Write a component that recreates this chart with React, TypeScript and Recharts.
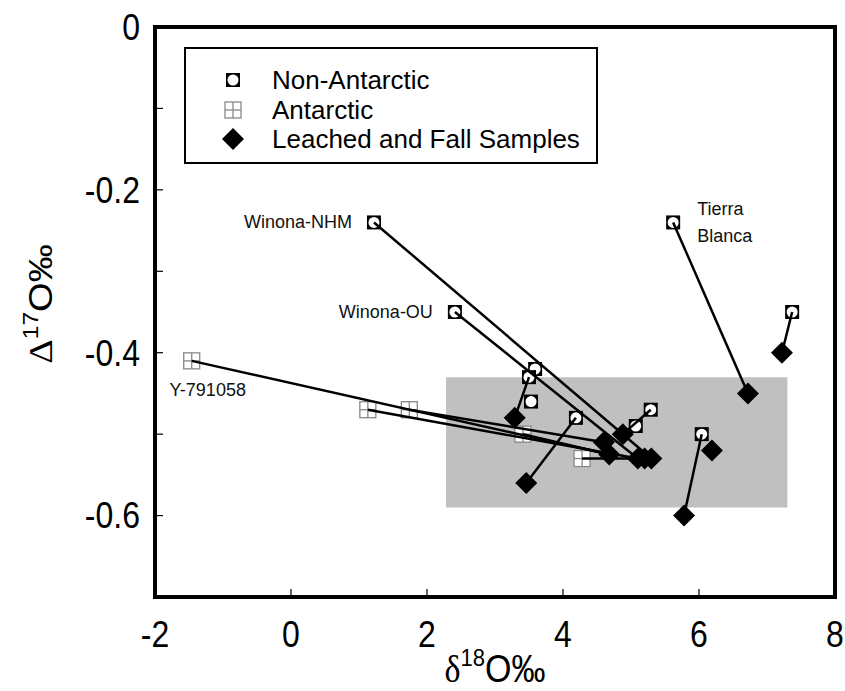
import React from 'react';
import { ScatterChart, Scatter, XAxis, YAxis, ReferenceArea } from 'recharts';

// pre-leach whole-rock values (δ18O, Δ17O)
const nonAntarctic = [
  { x: 1.22, y: -0.24, name: 'Winona-NHM' },
  { x: 2.41, y: -0.35, name: 'Winona-OU' },
  { x: 3.59, y: -0.42 },
  { x: 3.5, y: -0.43 },
  { x: 3.53, y: -0.46 },
  { x: 4.19, y: -0.48 },
  { x: 5.07, y: -0.49 },
  { x: 5.29, y: -0.47 },
  { x: 6.04, y: -0.5 },
  { x: 5.62, y: -0.24, name: 'Tierra Blanca' },
  { x: 7.37, y: -0.35 },
];

const antarctic = [
  { x: -1.46, y: -0.41, name: 'Y-791058' },
  { x: 1.13, y: -0.47 },
  { x: 1.74, y: -0.47 },
  { x: 3.41, y: -0.5 },
  { x: 4.28, y: -0.53 },
];

const leached = [
  { x: 3.29, y: -0.48 },
  { x: 3.46, y: -0.56 },
  { x: 4.6, y: -0.51 },
  { x: 4.68, y: -0.525 },
  { x: 4.88, y: -0.5 },
  { x: 5.1, y: -0.53 },
  { x: 5.2, y: -0.53 },
  { x: 5.3, y: -0.53 },
  { x: 5.78, y: -0.6 },
  { x: 6.19, y: -0.52 },
  { x: 6.72, y: -0.45 },
  { x: 7.22, y: -0.4 },
];

// [index in nonAntarctic / antarctic, index in leached]
const nonAntarcticTies = [[0, 7], [1, 5], [3, 0], [5, 1], [7, 4], [8, 8], [9, 10], [10, 11]];
const antarcticTies = [[0, 3], [1, 5], [2, 2], [3, 3], [4, 6]];

// shaded range of leached / fall samples
const fieldX = [2.28, 7.3];
const fieldY = [-0.59, -0.43];

const xTicks = [-2, 0, 2, 4, 6, 8];
const yTicks = [0, -0.1, -0.2, -0.3, -0.4, -0.5, -0.6, -0.7];

const FONT = '"Liberation Sans", Arial, Helvetica, sans-serif';

const tieLines = [
  ...nonAntarcticTies.map(([a, b]) => [nonAntarctic[a], leached[b]]),
  ...antarcticTies.map(([a, b]) => [antarctic[a], leached[b]]),
];

const Nothing = () => <g />;

const SampleLabel = ({ cx, cy, name }: any) => {
  if (!name) return null;
  const common = { fontFamily: FONT, fontSize: 18, fill: '#111' };
  if (name === 'Tierra Blanca') {
    return (
      <text x={cx + 24} y={cy - 7} {...common}>
        <tspan x={cx + 24}>Tierra</tspan>
        <tspan x={cx + 24} dy={27}>Blanca</tspan>
      </text>
    );
  }
  if (name === 'Y-791058') {
    return <text x={cx + 16} y={cy + 35} textAnchor="middle" {...common}>{name}</text>;
  }
  return <text x={cx - 22} y={cy + 6} textAnchor="end" {...common}>{name}</text>;
};

const NonAntarcticMark = (props: any) => {
  const { cx, cy, payload } = props;
  return (
    <g>
      <rect x={cx - 7} y={cy - 7} width={14} height={14} fill="#000" />
      <circle cx={cx} cy={cy} r={5.5} fill="#fff" />
      <SampleLabel cx={cx} cy={cy} name={payload?.name} />
    </g>
  );
};

const AntarcticMark = (props: any) => {
  const { cx, cy, payload } = props;
  return (
    <g>
      <rect x={cx - 8} y={cy - 8} width={16} height={16} fill="#fff" stroke="#888" strokeWidth={1.3} />
      <line x1={cx} y1={cy - 8} x2={cx} y2={cy + 8} stroke="#888" strokeWidth={1.3} />
      <line x1={cx - 8} y1={cy} x2={cx + 8} y2={cy} stroke="#888" strokeWidth={1.3} />
      <SampleLabel cx={cx} cy={cy} name={payload?.name} />
    </g>
  );
};

const DiamondMark = ({ cx, cy }: any) => (
  <path d={`M${cx},${cy - 11}L${cx + 11},${cy}L${cx},${cy + 11}L${cx - 11},${cy}Z`} fill="#000" />
);

const YTick = ({ x, y, payload }: any) => {
  const v = payload.value;
  const even = Math.round(Math.abs(v) * 10) % 2 === 0;
  if (!even) return null;
  return (
    <g transform={`translate(${x},${y}) scale(1,1.15)`}>
      <text x={0} y={0} textAnchor="end" dominantBaseline="central" fontFamily={FONT} fontSize={32} fill="#000">
        {v === 0 ? '0' : v.toFixed(1)}
      </text>
    </g>
  );
};

const XTick = ({ x, y, payload }: any) => (
  <g transform={`translate(${x},${y}) scale(1,1.15)`}>
    <text x={0} y={0} dy="0.72em" textAnchor="middle" fontFamily={FONT} fontSize={32} fill="#000">
      {payload.value}
    </text>
  </g>
);

const XTitle = ({ viewBox }: any) => {
  const cx = viewBox.x + viewBox.width / 2;
  return (
    <g transform={`translate(${cx},682) scale(1,1.12)`}>
      <text x={0} y={0} textAnchor="middle" fontFamily={FONT} fontSize={34} fill="#000">
        <tspan fontFamily='"Liberation Serif", "Times New Roman", serif'>δ</tspan>
        <tspan fontSize={22} dy={-14}>18</tspan>
        <tspan dy={14}>O‰</tspan>
      </text>
    </g>
  );
};

const YTitle = ({ viewBox }: any) => {
  const cy = viewBox.y + viewBox.height / 2 - 8;
  return (
    <g transform={`translate(52,${cy}) rotate(-90) scale(1.12,1)`}>
      <text x={0} y={0} textAnchor="middle" fontFamily={FONT} fontSize={34} fill="#000">
        <tspan fontFamily='"Liberation Serif", "Times New Roman", serif'>Δ</tspan>
        <tspan fontSize={22} dy={-14}>17</tspan>
        <tspan dy={14}>O‰</tspan>
      </text>
    </g>
  );
};

const legendRows = [
  { label: 'Non-Antarctic', icon: 'na' },
  { label: 'Antarctic', icon: 'an' },
  { label: 'Leached and Fall Samples', icon: 'lf' },
];

const LegendBox = () => (
  <div
    style={{
      position: 'absolute',
      left: 184,
      top: 47,
      width: 410,
      height: 113,
      border: '2px solid #000',
      background: '#fff',
      fontFamily: FONT,
      fontSize: 26,
    }}
  >
    {legendRows.map((r, i) => (
      <div key={r.label} style={{ position: 'absolute', left: 0, top: 16 + i * 29.5, height: 30, display: 'flex', alignItems: 'center' }}>
        <svg width={30} height={30} style={{ marginLeft: 32 }}>
          {r.icon === 'na' && <NonAntarcticMark cx={15} cy={15} />}
          {r.icon === 'an' && <AntarcticMark cx={15} cy={15} />}
          {r.icon === 'lf' && <DiamondMark cx={15} cy={15} />}
        </svg>
        <span style={{ marginLeft: 24, lineHeight: '30px', color: '#000' }}>{r.label}</span>
      </div>
    ))}
  </div>
);

const App = () => (
  <div style={{ position: 'relative', width: 845, height: 691, background: '#fff' }}>
    <style>{'body{margin:0}'}</style>
    <ScatterChart width={845} height={691} margin={{ top: 27, right: 10, bottom: 0, left: 0 }}>
      <XAxis
        type="number"
        dataKey="x"
        domain={[-2, 8]}
        ticks={xTicks}
        height={94}
        axisLine={false}
        tickSize={-8}
        tickMargin={31}
        tickLine={{ stroke: '#000', strokeWidth: 1.2 }}
        tick={<XTick />}
        label={{ content: XTitle }}
      />
      <YAxis
        type="number"
        dataKey="y"
        domain={[-0.7, 0]}
        ticks={yTicks}
        width={155}
        axisLine={false}
        tickSize={-8}
        tickMargin={23}
        tickLine={{ stroke: '#000', strokeWidth: 1.2 }}
        tick={<YTick />}
        label={{ content: YTitle }}
      />
      <ReferenceArea x1={fieldX[0]} x2={fieldX[1]} y1={fieldY[0]} y2={fieldY[1]} fill="#c0c0c0" fillOpacity={1} stroke="none" />
      <Scatter data={antarctic} shape={<AntarcticMark />} isAnimationActive={false} />
      <Scatter data={nonAntarctic} shape={<NonAntarcticMark />} isAnimationActive={false} />
      {tieLines.map((pair, i) => (
        <Scatter
          key={`tie-${i}`}
          data={pair}
          line={{ stroke: '#000', strokeWidth: 2.5 }}
          shape={<Nothing />}
          isAnimationActive={false}
        />
      ))}
      <Scatter data={leached} shape={<DiamondMark />} isAnimationActive={false} />
      <ReferenceArea x1={-2} x2={8} y1={-0.7} y2={0} fill="none" stroke="#000" strokeWidth={4} />
    </ScatterChart>
    <LegendBox />
  </div>
);

export default App;
